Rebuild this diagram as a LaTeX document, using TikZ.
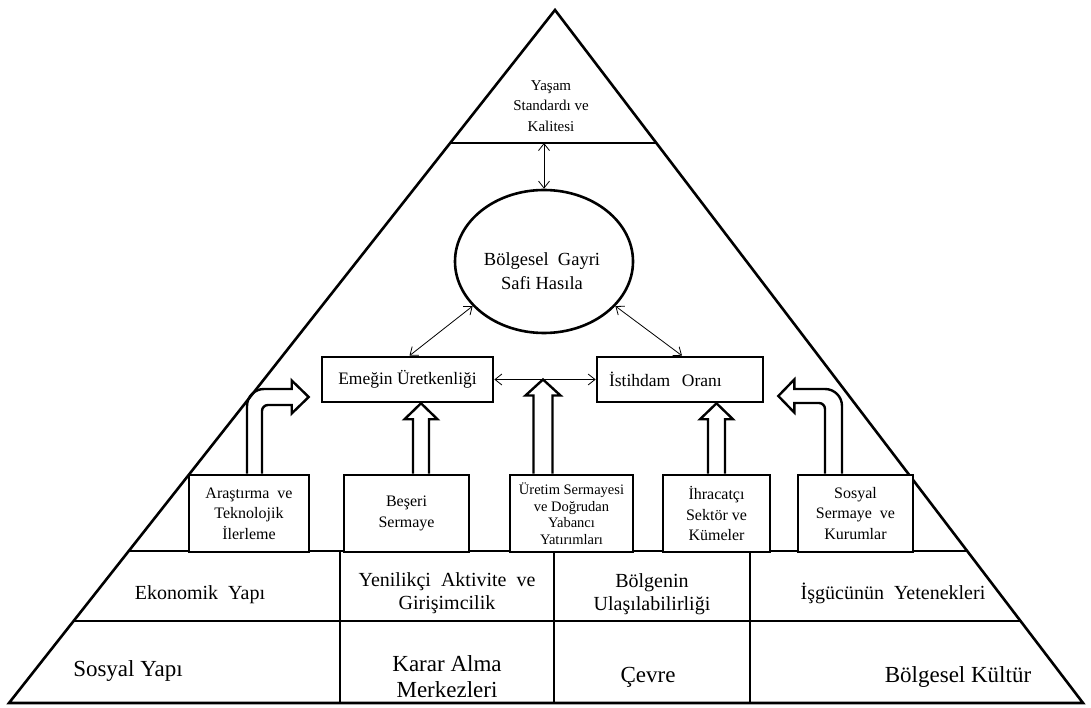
\documentclass[tikz,border=0pt]{standalone}
\usepackage{fontspec}
\setmainfont{Liberation Serif}
\usetikzlibrary{arrows.meta,shapes.geometric,calc}
\tikzset{
bigbox/.style={
draw,
line width=2.6pt,
minimum width=171pt,
minimum height=45pt,
inner sep=0pt,
fill=white,
font=\fontsize{17.5}{20}\selectfont
},
smallbox/.style={
draw,
line width=2.6pt,
minimum height=77pt,
inner sep=0pt,
align=center,
fill=white,
font=\fontsize{16}{20.5}\selectfont
},
lbl/.style={
align=center,
inner sep=0pt
},
rowa/.style={lbl,font=\fontsize{20}{23}\selectfont},
rowb/.style={lbl,font=\fontsize{23}{26}\selectfont},
arrow/.style={
{Straight Barb[length=7pt,width=11pt]}-{Straight Barb[length=7pt,width=11pt]},
line width=0.8pt
},
hollow/.style={
draw,
line width=2.4pt,
line join=miter
}
}
% hollow block arrow pointing up: tail, tip, shaft half width, head half width
\newcommand{\upblock}[4]{%
\draw[hollow] let \p1=(#1), \p2=(#2) in
(\x1-#3,\y1) -- (\x1-#3,\y2-16pt) -- (\x1-#4,\y2-16pt) -- (\x1,\y2)
-- (\x1+#4,\y2-16pt) -- (\x1+#3,\y2-16pt) -- (\x1+#3,\y1);}

\begin{document}
\begin{tikzpicture}[x=1pt,y=1pt]
\useasboundingbox (0,0) rectangle (1091,707);

% pyramid
\coordinate (A) at (555,697);
\coordinate (B) at (9,4);
\coordinate (C) at (1083,4);
\draw[line width=2.6pt,line join=miter] (A) -- (B) -- (C) -- cycle;
\coordinate (L1) at ($(A)!0.1919!(B)$);
\foreach \t in {0.1919,0.7807,0.8817}
\draw[line width=1.1pt] ($(A)!\t!(B)$) -- ($(A)!\t!(C)$);
\foreach \x in {340,554,750}
\draw[line width=1.1pt] (\x,156) -- (\x,4);

% top
\node[lbl,font=\fontsize{15}{20.5}\selectfont] (q) at (551,601) {Yaşam\\Standardı ve\\Kalitesi};
\node[ellipse,draw,line width=2.6pt,minimum width=178pt,minimum height=143pt,inner sep=0pt] (g) at (544,445.5) {};
\node[lbl,font=\fontsize{18.5}{24}\selectfont] (gt) at (542,435.5) {Bölgesel\ \ Gayri\\Safi Hasıla};
\draw[arrow] (g.north |- L1) -- (g.north);

% middle boxes
\node[bigbox] (e) at (407.5,327.5) {Emeğin Üretkenliği};
\node[bigbox,minimum width=166pt,text width=142pt,align=left] (s) at (680,327.5) {İstihdam\ \ Oranı};
\draw[arrow] (e) -- (s);
\draw[arrow] ($(e.north)+(2,0)$) -- (g.-148);
\draw[arrow] ($(s.north)+(2,0)$) -- (g.-32);

% small boxes
\node[smallbox,minimum width=120pt] (a1) at (249,193.5) {Araştırma\ \ ve\\Teknolojik\\İlerleme};
\node[smallbox,minimum width=125pt] (a2) at (406.5,193.5) {Beşeri\\Sermaye};
\node[smallbox,minimum width=123pt,font=\fontsize{14.5}{16.5}\selectfont] (a3) at (571.5,193.5) {Üretim Sermayesi\\ve Doğrudan\\Yabancı\\Yatırımları};
\node[smallbox,minimum width=107pt] (a4) at (716.5,193.5) {İhracatçı\\Sektör ve\\Kümeler};
\node[smallbox,minimum width=115pt] (a5) at (855.5,193.5) {Sosyal\\Sermaye\ \ ve\\Kurumlar};

% block arrows
\upblock{$(a2.north)+(14.5,0)$}{e.south}{8pt}{16.5pt}
\upblock{$(a3.north)+(-28.5,0)$}{e.east}{9.5pt}{17.5pt}
\upblock{a4.north}{s.south}{8.5pt}{16.5pt}
\draw[hollow] let \p1=($(a1.north)+(5.5,0)$), \p2=($(e.west)+(-12,-17.5)$) in
(\x1-7.5pt,\y1) -- (\x1-7.5pt,\y2-9pt) arc[start angle=180,end angle=90,radius=17pt]
-- (\x2-17pt,\y2+8pt) -- (\x2-17pt,\y2+16.5pt) -- (\x2,\y2) -- (\x2-17pt,\y2-16.5pt)
-- (\x2-17pt,\y2-8pt) -- (\x1+13.5pt,\y2-8pt) arc[start angle=90,end angle=180,radius=6pt]
-- (\x1+7.5pt,\y1);
\draw[hollow] let \p1=($(a5.north)+(-22,0)$), \p2=($(s.east)+(14,-16.5)$) in
(\x1+8.5pt,\y1) -- (\x1+8.5pt,\y2-10pt) arc[start angle=0,end angle=90,radius=17pt]
-- (\x2+16pt,\y2+7pt) -- (\x2+16pt,\y2+16.5pt) -- (\x2,\y2) -- (\x2+16pt,\y2-16.5pt)
-- (\x2+16pt,\y2-7pt) -- (\x1-14.5pt,\y2-7pt) arc[start angle=90,end angle=0,radius=6pt]
-- (\x1-8.5pt,\y1);

% bottom rows
\node[rowa] (r1) at (200,112) {Ekonomik\ \ Yapı};
\node[rowa] (r2) at (447,113.5) {Yenilikçi\ \ Aktivite\ \ ve\\Girişimcilik};
\node[rowa] (r3) at (652,113) {Bölgenin\\Ulaşılabilirliği};
\node[rowa] (r4) at (893,114) {İşgücünün\ \ Yetenekleri};
\node[rowb] (s1) at (128,36) {Sosyal Yapı};
\node[rowb] (s2) at (447,30) {Karar Alma\\Merkezleri};
\node[rowb] (s3) at (648,30) {Çevre};
\node[rowb] (s4) at (958,30) {Bölgesel Kültür};
\end{tikzpicture}
\end{document}
